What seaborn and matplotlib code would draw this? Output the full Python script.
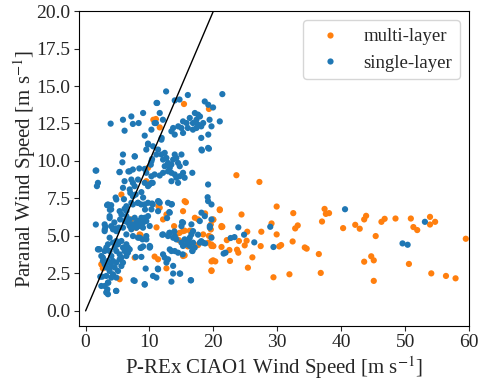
import matplotlib
matplotlib.use("Agg")
import matplotlib.pyplot as plt
import seaborn as sns
import pandas as pd

# single-layer (blue)
single_x = [
    12.6, 11.1, 13.95, 14.7, 16.0, 21.4, 18.65, 19.2, 19.95, 11.6, 10.8, 10.3, 12.1, 11.9,
    13.43, 13.95, 13.7, 14.5, 15.25, 15.0, 15.8, 16.3, 17.1, 17.6, 17.9, 17.35, 16.8, 17.6,
    17.35, 18.1, 18.4, 16.8, 16.0, 15.25, 19.4, 19.7, 21.0, 19.2, 18.1, 18.2, 19.3,
    3.92, 5.85, 7.16, 9.0, 6.1, 7.4, 8.3, 11.2, 9.25, 9.77, 11.0,
    9.77, 5.85, 7.68, 11.08, 9.5, 5.75, 7.4, 6.9, 9.25, 10.3, 1.57, 1.93, 1.77, 5.33, 6.1,
    5.85, 7.16, 7.4, 7.68, 6.9, 8.2, 9.5, 9.25, 10.0, 9.77, 10.5, 8.73, 7.84, 7.4, 7.16, 7.4,
    8.2, 9.25, 9.77, 10.5, 10.3, 3.5, 4.0, 3.76, 4.8, 5.33, 5.6, 6.38, 6.38,
    6.1, 6.63, 6.9, 7.68, 7.95, 7.41, 8.2, 8.46, 8.98, 8.73, 9.25, 9.5, 9.77, 8.98, 7.95, 7.16,
    11.34, 11.86, 12.12, 12.65, 12.9, 12.38, 13.17, 13.43, 13.7, 13.95, 14.2, 14.47, 14.73,
    13.43, 12.9, 13.95, 14.2, 14.73, 15.25, 15.67, 16.7, 15.5, 14.47, 13.43, 12.12, 11.6,
    10.8, 10.3, 10.3, 12.38, 15.0, 18.13, 19.17, 19.17, 19.7, 19.17, 11.34, 11.6, 11.34,
    13.17, 13.43, 12.9, 18.13, 15.25, 16.56, 17.87, 18.65, 19.7, 19.44, 11.86, 10.55,
    12.12, 13.17, 13.7, 14.2, 13.95, 15.0, 15.25, 15.78, 16.04, 16.3, 16.56, 16.82, 15.5,
    16.3, 16.82, 17.87, 18.39, 16.72, 17.08, 10.03, 12.12, 12.38, 12.9, 12.65, 13.17, 13.43,
    13.95, 14.47, 11.34, 10.55, 11.08, 13.7, 14.73, 13.43, 16.46, 19.44, 19.7, 21.6, 21.9,
    2.98, 2.98, 4.28, 4.81, 5.85, 6.9, 7.16, 8.46, 6.38, 7.41, 8.2, 9.51, 10.03,
    2.19, 2.46, 2.71, 2.98, 3.24, 3.5, 3.76, 4.03, 4.28, 4.55, 4.81, 5.07, 5.33, 5.6, 5.85,
    6.11, 6.38, 6.63, 4.28, 4.81, 4.55, 4.03, 3.5, 3.24, 3.76, 4.28, 5.07, 5.6, 5.85, 5.33,
    2.98, 3.5, 6.38, 6.63, 6.9, 4.81, 5.6, 3.76, 2.71, 4.03, 4.81, 3.24,
    1.93, 2.46, 2.98, 3.5, 3.24, 3.5, 4.81, 7.68, 9.25, 8.73, 10.03, 9.4, 7.84, 8.73,
    3.1, 3.0, 4.0, 4.7, 5.2, 3.76, 5.4, 4.5, 2.0, 3.36, 4.0, 3.8, 4.7, 6.0, 6.1, 6.4, 7.0,
    7.5, 8.2, 9.0, 8.7, 9.3, 10.4, 11.45, 13.5, 13.1, 12.75, 19.1, 15.1, 15.0,
    9.0, 8.6, 10.1, 8.9, 9.5, 12.0, 12.9, 13.9, 13.1, 18.1, 18.7, 17.6, 22.7, 23.3, 23.9,
    24.8, 26.4, 28.9, 29.4, 40.6, 49.6, 50.4, 53.1, 1.67, 5.3, 6.7, 7.7, 8.4, 10.2, 10.4,
    1.6, 2.3, 2.6, 3.3, 3.4, 3.55, 4.76, 7.5, 9.25, 11.3, 13.7, 14.8, 16.5, 15.2, 16.7,
]
single_y = [
    14.64, 13.87, 14.04, 14.1, 14.4, 14.46, 13.97, 13.75, 13.57, 13.2, 12.53, 12.09, 12.75, 11.54,
    11.98, 11.76, 12.2, 12.31, 12.64, 12.2, 12.53, 12.87, 13.2, 13.09, 12.97, 12.75, 12.53, 12.42,
    12.2, 12.31, 12.53, 12.09, 12.2, 11.87, 12.75, 12.31, 12.64, 11.76, 11.54, 10.7, 10.82,
    12.49, 12.75, 12.97, 13.2, 12.02, 12.47, 12.53, 13.87, 11.69, 11.16, 12.53,
    11.09, 10.43, 10.31, 10.43, 10.76, 9.91, 9.43, 9.31, 9.47, 9.98, 9.36, 8.54, 8.32, 9.27, 8.65,
    8.21, 8.76, 8.54, 8.32, 8.1, 8.76, 9.21, 8.54, 8.43, 8.32, 8.54, 7.92, 7.76, 7.65, 7.21, 7.1,
    7.21, 7.1, 7.21, 7.1, 6.77, 7.1, 6.77, 6.32, 7.43, 6.65, 6.43, 6.98, 6.32,
    5.99, 5.88, 6.1, 6.21, 5.88, 5.77, 5.99, 5.66, 5.88, 6.21, 6.21, 5.99, 6.32, 5.55, 5.55, 5.6,
    10.76, 10.43, 10.09, 10.2, 9.87, 9.65, 9.54, 9.76, 10.09, 10.43, 10.2, 9.87, 9.65,
    9.21, 9.31, 9.1, 8.88, 8.98, 9.21, 9.87, 9.21, 8.88, 8.54, 8.65, 9.21, 9.03,
    9.1, 8.98, 8.54, 10.54, 10.43, 10.76, 10.87, 8.43, 7.1, 7.32, 7.32, 7.21, 6.65,
    6.55, 7.1, 7.21, 6.55, 5.88, 5.77, 5.99, 6.32, 6.1, 5.66, 11.42, 10.98,
    5.1, 5.21, 4.88, 4.77, 4.99, 4.55, 4.33, 4.44, 4.66, 4.88, 5.1, 5.32, 4.77,
    4.33, 4.55, 4.55, 4.55, 3.99, 4.22, 4.33, 3.77, 3.55, 3.44, 3.22, 4.1, 3.99,
    3.99, 3.88, 2.77, 2.33, 2.22, 2.49, 2.49, 1.95, 2.04, 5.55, 4.88, 3.82, 3.88,
    5.77, 5.32, 5.44, 5.32, 5.55, 5.66, 5.44, 4.88, 5.1, 4.99, 4.88, 4.77, 5.66,
    4.1, 3.66, 3.55, 3.99, 4.22, 4.44, 3.99, 3.66, 4.55, 4.22, 3.99, 4.44, 3.77, 3.55, 4.22,
    3.99, 3.66, 4.22, 3.33, 3.22, 2.89, 2.99, 3.22, 2.89, 2.66, 2.44, 2.66, 2.99, 3.22, 3.44,
    3.11, 3.33, 4.44, 3.88, 4.1, 4.66, 4.66, 4.88, 3.33, 2.22, 2.22, 2.33,
    4.1, 1.66, 1.66, 1.89, 1.22, 1.11, 1.33, 2.0, 1.78, 4.22, 4.22, 2.82, 3.6, 3.6,
    5.6, 5.43, 5.65, 5.5, 5.55, 6.19, 6.1, 5.9, 4.12, 7.05, 7.05, 6.74, 7.56, 7.45, 6.81, 6.67, 7.87,
    7.7, 7.2, 7.56, 7.1, 6.76, 7.16, 7.3, 7.12, 6.59, 6.19, 7.58, 5.92, 5.65,
    4.3, 4.2, 4.28, 4.77, 4.99, 5.08, 4.99, 5.3, 5.2, 4.65, 4.5, 5.08, 4.86, 4.92, 5.57,
    5.08, 4.57, 5.61, 4.26, 6.78, 4.5, 4.41, 5.94, 9.36, 9.25, 9.3, 10.3, 9.5, 9.75, 10.13,
    5.76, 2.28, 2.28, 1.26, 1.44, 1.88, 1.33, 2.04, 1.75, 2.82, 3.0, 2.48, 2.04, 3.77, 4.0,
]

# multi-layer (orange)
multi_x = [
    23.6, 27.2, 29.9, 32.5, 32.8, 33.2, 32.4, 31.9, 29.4, 29.1, 27.5, 27.4, 26.1, 25.4, 25.3,
    25.2, 24.9, 24.4, 24.0, 23.9, 23.7, 22.6, 22.5, 22.1, 21.0, 21.4, 20.0, 19.6, 19.6, 19.7,
    20.0, 19.7, 20.3, 19.7, 29.9, 30.6, 30.3, 34.3, 34.6, 36.5, 36.8, 37.0, 37.4, 37.6, 38.1,
    40.3, 42.2, 42.9, 43.6, 43.9, 43.6, 44.7, 45.1, 45.1, 45.4, 46.3, 46.8, 48.5, 50.9, 50.6,
    51.3, 51.9, 53.9, 53.9, 54.7, 54.1, 56.4, 57.9, 59.5,
    15.4, 19.3, 10.6, 11.0, 11.6, 9.77, 9.5, 5.6, 7.16, 11.4, 15.5, 15.25, 12.12, 12.65,
    17.1, 17.6, 19.95, 21.0, 21.27, 11.6, 10.8, 15.25, 15.5, 16.3, 14.2, 15.25, 15.5, 18.4,
    19.2, 19.7, 19.95, 19.7, 21.27, 21.27, 8.46, 7.68, 11.34, 2.46, 5.33, 2.56, 2.7, 13.85,
    14.7, 14.6, 16.0, 17.6, 18.7, 19.3, 19.6, 12.65, 7.9, 8.6, 11.1, 15.7,
]
multi_y = [
    9.05, 8.6, 6.96, 6.52, 5.5, 5.7, 4.63, 2.44, 2.24, 5.83, 5.28, 4.32, 3.57, 2.88, 5.28,
    4.68, 4.37, 6.43, 4.66, 3.88, 4.08, 3.33, 4.06, 4.72, 6.72, 5.61, 6.08, 5.43, 4.94, 4.43,
    4.32, 3.3, 3.3, 2.7, 5.1, 4.39, 4.3, 4.23, 4.15, 3.79, 2.53, 5.96, 6.8, 6.47, 6.52,
    5.52, 5.74, 5.48, 6.1, 6.34, 3.28, 3.64, 3.37, 2.0, 4.99, 5.94, 6.14, 6.16, 6.16, 3.13,
    5.59, 5.39, 6.27, 5.76, 5.94, 2.5, 2.33, 2.17, 4.81,
    13.8, 13.47, 12.75, 12.8, 12.24, 9.54, 8.65, 7.76, 6.1, 6.98, 7.32, 6.65, 6.1, 6.43,
    6.21, 6.1, 6.1, 6.77, 5.66, 6.88, 3.62, 5.32, 5.35, 5.35, 5.1, 3.66, 3.7, 5.1,
    4.55, 4.33, 3.37, 2.66, 4.26, 5.59, 5.1, 3.55, 3.44, 3.11, 2.11, 3.06, 2.84, 5.65,
    5.2, 4.72, 4.3, 4.39, 6.5, 5.0, 5.76, 2.84, 5.54, 5.06, 5.57, 7.25,
]

line_x = [0, 20]
line_y = [0, 20]

labels = ["multi-layer", "single-layer"]
colors = {"multi-layer": "#ff7f0e", "single-layer": "#1f77b4"}

df = pd.DataFrame({
    "x": multi_x + single_x,
    "y": multi_y + single_y,
    "type": [labels[0]] * len(multi_x) + [labels[1]] * len(single_x),
})

sns.set_style("ticks")
plt.rcParams["font.family"] = ["Liberation Serif", "DejaVu Serif"]
plt.rcParams["mathtext.fontset"] = "stix"

fig, ax = plt.subplots(figsize=(4.87, 3.82), dpi=100)
fig.subplots_adjust(left=0.162, right=0.963, top=0.971, bottom=0.147)

sns.scatterplot(data=df, x="x", y="y", hue="type", hue_order=labels,
                palette=colors, s=20, linewidth=0, ax=ax)
ax.plot(line_x, line_y, color="black", linewidth=1)

ax.set_xlim(-1.05, 60)
ax.set_ylim(-1, 20)
ax.set_xticks([0, 10, 20, 30, 40, 50, 60])
ax.set_yticks([0, 2.5, 5, 7.5, 10, 12.5, 15, 17.5, 20])
ax.set_yticklabels(["0.0", "2.5", "5.0", "7.5", "10.0", "12.5", "15.0", "17.5", "20.0"])
ax.tick_params(labelsize=14, pad=2.5)
ax.set_xlabel(r"P-REx CIAO1 Wind Speed [m s$^{-1}$]", fontsize=15, labelpad=2)
ax.set_ylabel(r"Paranal Wind Speed [m s$^{-1}$]", fontsize=15, labelpad=-1)
for sp in ax.spines.values():
    sp.set_visible(True)
    sp.set_color("black")
ax.legend(loc="upper right", fontsize=13.5)

fig.savefig("out.png", dpi=100)
